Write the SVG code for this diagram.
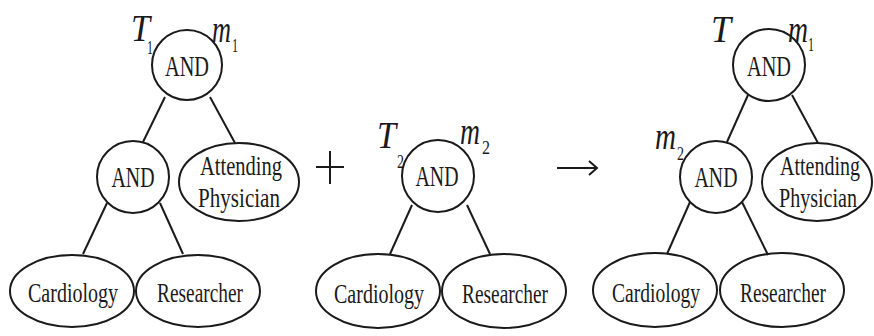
<svg xmlns="http://www.w3.org/2000/svg" width="874" height="336" viewBox="0 0 874 336">
<style>
.n{fill:none;stroke:#1a1a1a;stroke-width:2}
.c{stroke:#1a1a1a;stroke-width:2;fill:none}
.t{font-family:"Liberation Serif","Times New Roman",serif;fill:#1a1a1a;text-anchor:middle}
.a{font-size:30px}
.l{font-size:28px}
.m{font-family:"Liberation Serif","Times New Roman",serif;font-style:italic;fill:#1a1a1a;font-size:38px}
.s{font-family:"Liberation Serif","Times New Roman",serif;fill:#1a1a1a;font-size:18px}
</style>
<rect width="874" height="336" fill="#fff"/>
<g id="connectors">
<line class="c" x1="165" y1="97" x2="143" y2="142"/>
<line class="c" x1="210" y1="97" x2="235" y2="143"/>
<line class="c" x1="107" y1="203" x2="83" y2="254"/>
<line class="c" x1="160" y1="203" x2="183" y2="254"/>
<line class="c" x1="412" y1="205" x2="390" y2="254"/>
<line class="c" x1="467" y1="205" x2="490" y2="254"/>
<line class="c" x1="748" y1="95" x2="727" y2="142"/>
<line class="c" x1="792" y1="95" x2="818" y2="143"/>
<line class="c" x1="690" y1="202" x2="667" y2="254"/>
<line class="c" x1="742" y1="202" x2="768" y2="255"/>
</g>
<g id="tree1-and-root">
<circle class="n" cx="187" cy="65" r="35"/>
<text class="t a" x="187" y="76" textLength="44" lengthAdjust="spacingAndGlyphs">AND</text>
<text class="m" x="131" y="41" textLength="19" lengthAdjust="spacingAndGlyphs">T</text>
<text class="s" x="147" y="54" textLength="6" lengthAdjust="spacingAndGlyphs">1</text>
<text class="m" x="212" y="42" textLength="19" lengthAdjust="spacingAndGlyphs">m</text>
<text class="s" x="232" y="52" textLength="6" lengthAdjust="spacingAndGlyphs">1</text>
</g>
<g id="tree1-and-child">
<circle class="n" cx="133" cy="177" r="36"/>
<text class="t a" x="133" y="187" textLength="43" lengthAdjust="spacingAndGlyphs">AND</text>
</g>
<g id="tree1-attending">
<ellipse class="n" cx="239" cy="182" rx="60" ry="39"/>
<text class="t l" x="241" y="175" textLength="82" lengthAdjust="spacingAndGlyphs">Attending</text>
<text class="t l" x="239" y="207" textLength="82" lengthAdjust="spacingAndGlyphs">Physician</text>
</g>
<g id="tree1-cardiology">
<ellipse class="n" cx="72" cy="291" rx="62" ry="36"/>
<text class="t l" x="73" y="302" textLength="90" lengthAdjust="spacingAndGlyphs">Cardiology</text>
</g>
<g id="tree1-researcher">
<ellipse class="n" cx="198" cy="291" rx="62" ry="36"/>
<text class="t l" x="200" y="302" textLength="86" lengthAdjust="spacingAndGlyphs">Researcher</text>
</g>
<g id="plus">
<line class="c" x1="330" y1="151" x2="330" y2="184"/>
<line class="c" x1="316" y1="167" x2="344" y2="167"/>
</g>
<g id="tree2-and">
<circle class="n" cx="438" cy="176" r="36"/>
<text class="t a" x="437" y="186" textLength="43" lengthAdjust="spacingAndGlyphs">AND</text>
<text class="m" x="377" y="148" textLength="19" lengthAdjust="spacingAndGlyphs">T</text>
<text class="s" x="397" y="168" textLength="7" lengthAdjust="spacingAndGlyphs">2</text>
<text class="m" x="460" y="144" textLength="20" lengthAdjust="spacingAndGlyphs">m</text>
<text class="s" x="482" y="154" textLength="8" lengthAdjust="spacingAndGlyphs">2</text>
</g>
<g id="tree2-cardiology">
<ellipse class="n" cx="378" cy="291" rx="62" ry="37"/>
<text class="t l" x="379" y="303" textLength="90" lengthAdjust="spacingAndGlyphs">Cardiology</text>
</g>
<g id="tree2-researcher">
<ellipse class="n" cx="504" cy="291" rx="62" ry="37"/>
<text class="t l" x="505" y="303" textLength="86" lengthAdjust="spacingAndGlyphs">Researcher</text>
</g>
<g id="arrow">
<line class="c" x1="557" y1="168" x2="597" y2="168"/>
<polyline class="c" points="589,161 597,168 589,175"/>
</g>
<g id="tree3-and-root">
<circle class="n" cx="769" cy="65" r="36"/>
<text class="t a" x="769" y="76" textLength="44" lengthAdjust="spacingAndGlyphs">AND</text>
<text class="m" x="711" y="42" textLength="20" lengthAdjust="spacingAndGlyphs">T</text>
<text class="m" x="788" y="42" textLength="20" lengthAdjust="spacingAndGlyphs">m</text>
<text class="s" x="808" y="51" textLength="6" lengthAdjust="spacingAndGlyphs">1</text>
</g>
<g id="tree3-and-child">
<circle class="n" cx="716" cy="177" r="36"/>
<text class="t a" x="716" y="187" textLength="43" lengthAdjust="spacingAndGlyphs">AND</text>
<text class="m" x="655" y="149" textLength="21" lengthAdjust="spacingAndGlyphs">m</text>
<text class="s" x="677" y="160" textLength="7" lengthAdjust="spacingAndGlyphs">2</text>
</g>
<g id="tree3-attending">
<ellipse class="n" cx="817" cy="182" rx="55" ry="39"/>
<text class="t l" x="820" y="175" textLength="80" lengthAdjust="spacingAndGlyphs">Attending</text>
<text class="t l" x="818" y="207" textLength="78" lengthAdjust="spacingAndGlyphs">Physician</text>
</g>
<g id="tree3-cardiology">
<ellipse class="n" cx="655" cy="290" rx="62" ry="37"/>
<text class="t l" x="656" y="302" textLength="88" lengthAdjust="spacingAndGlyphs">Cardiology</text>
</g>
<g id="tree3-researcher">
<ellipse class="n" cx="782" cy="290" rx="62" ry="37"/>
<text class="t l" x="783" y="302" textLength="86" lengthAdjust="spacingAndGlyphs">Researcher</text>
</g>
</svg>
